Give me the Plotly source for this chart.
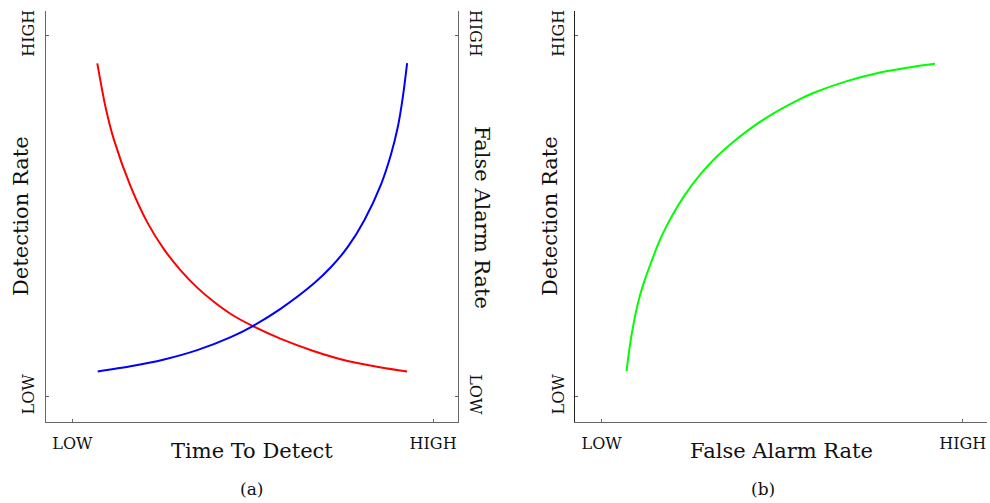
import plotly.graph_objects as go

# ---- data ----
tick_vals = [0, 1]
tick_text = ["LOW", "HIGH"]

red_x = [0.069, 0.092, 0.115, 0.161, 0.208, 0.254, 0.300, 0.346, 0.393, 0.439, 0.499, 0.578, 0.670, 0.763, 0.856, 0.928]
red_y = [0.923, 0.801, 0.712, 0.583, 0.482, 0.408, 0.350, 0.302, 0.262, 0.229, 0.196, 0.160, 0.126, 0.099, 0.081, 0.070]

blue_x = [0.070, 0.161, 0.254, 0.346, 0.439, 0.499, 0.578, 0.670, 0.717, 0.763, 0.809, 0.856, 0.883, 0.902, 0.916, 0.928]
blue_y = [0.070, 0.084, 0.103, 0.129, 0.165, 0.195, 0.244, 0.314, 0.359, 0.414, 0.488, 0.589, 0.670, 0.746, 0.829, 0.924]

green_x = [0.069, 0.076, 0.083, 0.094, 0.106, 0.120, 0.134, 0.157, 0.180, 0.226, 0.272, 0.319, 0.365, 0.410, 0.457, 0.494, 0.549, 0.586, 0.679, 0.771, 0.863, 0.923]
green_y = [0.071, 0.126, 0.172, 0.230, 0.280, 0.325, 0.364, 0.424, 0.473, 0.552, 0.614, 0.665, 0.706, 0.741, 0.773, 0.795, 0.824, 0.841, 0.874, 0.898, 0.914, 0.922]

FONT = "DejaVu Serif"
TICKFONT = dict(family=FONT, size=16, color="#111")
TITLEFONT = dict(family=FONT, size=21, color="#111")
GRAY = "#666"

fig = go.Figure()
fig.add_trace(go.Scatter(x=red_x, y=red_y, mode="lines", line=dict(color="#ff0000", width=2, shape="spline", smoothing=0.8),
                         xaxis="x", yaxis="y", showlegend=False))
fig.add_trace(go.Scatter(x=blue_x, y=blue_y, mode="lines", line=dict(color="#0000ff", width=2, shape="spline", smoothing=0.8),
                         xaxis="x", yaxis="y", showlegend=False))
fig.add_trace(go.Scatter(x=green_x, y=green_y, mode="lines", line=dict(color="#00ff00", width=2, shape="spline", smoothing=0.6),
                         xaxis="x2", yaxis="y2", showlegend=False))
# dummy trace so the right-hand axis of panel (a) is drawn
fig.add_trace(go.Scatter(x=[None], y=[None], xaxis="x", yaxis="y3", showlegend=False))

xr = [-0.074, 1.069]
yr = [-0.071, 1.068]
ydom = [0.1604, 0.978]

common = dict(tickvals=tick_vals, ticktext=tick_text, ticks="inside", ticklen=3, tickcolor=GRAY,
              showline=True, linewidth=1.3, showgrid=False, zeroline=False, tickfont=TICKFONT,
              fixedrange=True, automargin=False)

fig.update_layout(
    width=990, height=503, autosize=False,
    margin=dict(l=0, r=0, t=0, b=0),
    plot_bgcolor="white", paper_bgcolor="white",
    xaxis=dict(domain=[0.0462, 0.4626], range=xr, anchor="y", linecolor=GRAY, ticklabelstandoff=6, **common),
    yaxis=dict(domain=ydom, range=yr, anchor="x", linecolor=GRAY, tickangle=-90, ticklabelstandoff=4, **common),
    yaxis3=dict(domain=ydom, range=yr, anchor="x", overlaying="y", side="right", linecolor=GRAY,
                tickangle=90, ticklabelstandoff=4, **common),
    xaxis2=dict(domain=[0.5811, 0.9973], range=[-0.073, 1.068], anchor="y2", linecolor=GRAY, ticklabelstandoff=6, **common),
    yaxis2=dict(domain=ydom, range=yr, anchor="x2", linecolor="#222", tickangle=-90, ticklabelstandoff=4, **common),
)

ann = [
    dict(text="Time To Detect", x=252 / 990, y=1 - 451 / 503, textangle=0),
    dict(text="(a)", x=251 / 990, y=1 - 489 / 503, textangle=0),
    dict(text="False Alarm Rate", x=781 / 990, y=1 - 451 / 503, textangle=0),
    dict(text="(b)", x=763 / 990, y=1 - 489 / 503, textangle=0),
    dict(text="Detection Rate", x=21 / 990, y=1 - 216 / 503, textangle=-90),
    dict(text="False Alarm Rate", x=482 / 990, y=1 - 217 / 503, textangle=90),
    dict(text="Detection Rate", x=550 / 990, y=1 - 216 / 503, textangle=-90),
]
for a in ann:
    f = TITLEFONT if a["text"] not in ("(a)", "(b)") else dict(family=FONT, size=17, color="#111")
    fig.add_annotation(xref="paper", yref="paper", xanchor="center", yanchor="middle",
                       showarrow=False, font=f, **a)

fig.write_html("out.html", config={"displayModeBar": False},
               post_script="document.body.style.margin='0';document.body.style.padding='0';")
